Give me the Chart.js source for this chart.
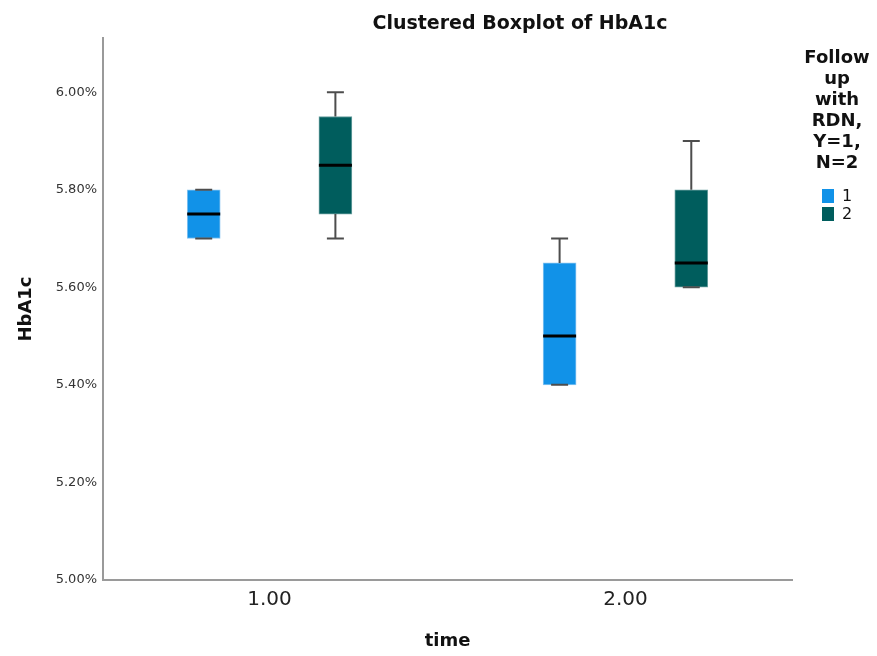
<!DOCTYPE html>
<html>
<head>
<meta charset="utf-8">
<script src="https://cdn.jsdelivr.net/npm/chart.js@4.4.1/dist/chart.umd.min.js"></script>
<style>
html,body{margin:0;padding:0;background:#fff;}
#wrap{position:relative;width:877px;height:656px;overflow:hidden;}
#c{position:absolute;left:0;top:0;}
#title{position:absolute;left:520px;top:11px;transform:translateX(-50%);white-space:nowrap;
  font:bold 19px "DejaVu Sans",sans-serif;line-height:22px;color:#111;}
#legend{position:absolute;left:797px;top:46px;width:80px;font-family:"DejaVu Sans",sans-serif;color:#111;}
#legend .lt{font-weight:bold;font-size:18px;line-height:21px;text-align:center;}
#legend .it{position:relative;height:18px;margin-left:25px;font-size:16px;line-height:18px;}
#legend .sw{position:absolute;left:0;top:2px;width:12px;height:14px;}
#legend .lb{position:absolute;left:20px;top:0;}
</style>
</head>
<body>
<div id="wrap">
<canvas id="c" width="877" height="656"></canvas>
<div id="title">Clustered Boxplot of HbA1c</div>
<div id="legend"></div>
</div>
<script>
// ---- data ----
const timeLabels = ['1.00', '2.00'];
const timeValues = [1, 2];
const groupLabels = ['1', '2'];
const legendTitleLines = ['Follow', 'up', 'with', 'RDN,', 'Y=1,', 'N=2'];
const yTickValues = [5.0, 5.2, 5.4, 5.6, 5.8, 6.0];

// group 1 (Y) per time point
const g1Min    = [5.70, 5.40];
const g1Q1     = [5.70, 5.40];
const g1Median = [5.75, 5.50];
const g1Q3     = [5.80, 5.65];
const g1Max    = [5.80, 5.70];
// group 2 (N) per time point
const g2Min    = [5.70, 5.60];
const g2Q1     = [5.75, 5.60];
const g2Median = [5.85, 5.65];
const g2Q3     = [5.95, 5.80];
const g2Max    = [6.00, 5.90];

const colors = ['#1192e8', '#005d5d'];
const borderColors = ['rgba(120,190,240,0.9)', 'rgba(90,150,150,0.9)'];
const clusterOffset = 0.185;

function makeDataset(label, color, border, off, mins, q1s, meds, q3s, maxs) {
  return {
    label: label,
    backgroundColor: color,
    borderColor: border,
    borderWidth: 1,
    borderSkipped: false,
    data: timeValues.map((t, i) => ({x: t + off, y: [q1s[i], q3s[i]]})),
    stats: timeValues.map((t, i) => ({min: mins[i], median: meds[i], max: maxs[i]}))
  };
}

const boxExtras = {
  id: 'boxExtras',
  afterDatasetsDraw(chart) {
    const ctx = chart.ctx;
    const ys = chart.scales.y;
    chart.data.datasets.forEach((ds, di) => {
      const meta = chart.getDatasetMeta(di);
      meta.data.forEach((el, i) => {
        const st = ds.stats[i];
        const x = el.x;
        const half = el.width / 2;
        const yTop = Math.min(el.y, el.base);
        const yBot = Math.max(el.y, el.base);
        const yMax = ys.getPixelForValue(st.max);
        const yMin = ys.getPixelForValue(st.min);
        const yMed = ys.getPixelForValue(st.median);
        ctx.save();
        ctx.strokeStyle = '#4d4d4d';
        ctx.lineWidth = 2;
        ctx.beginPath();
        if (yMax < yTop) { ctx.moveTo(x, yTop); ctx.lineTo(x, yMax); }
        if (yMin > yBot) { ctx.moveTo(x, yBot); ctx.lineTo(x, yMin); }
        ctx.moveTo(x - 8.5, yMax); ctx.lineTo(x + 8.5, yMax);
        ctx.moveTo(x - 8.5, yMin); ctx.lineTo(x + 8.5, yMin);
        ctx.stroke();
        ctx.strokeStyle = '#000000';
        ctx.lineWidth = 3;
        ctx.beginPath();
        ctx.moveTo(x - half, yMed); ctx.lineTo(x + half, yMed);
        ctx.stroke();
        ctx.restore();
      });
    });
  }
};

const chart = new Chart(document.getElementById('c'), {
  type: 'bar',
  data: {
    datasets: [
      makeDataset(groupLabels[0], colors[0], borderColors[0], -clusterOffset, g1Min, g1Q1, g1Median, g1Q3, g1Max),
      makeDataset(groupLabels[1], colors[1], borderColors[1], clusterOffset, g2Min, g2Q1, g2Median, g2Q3, g2Max)
    ]
  },
  options: {
    responsive: false,
    animation: false,
    grouped: false,
    barThickness: 33,
    layout: {padding: {top: 38, right: 85, left: 0, bottom: 0}},
    plugins: {legend: {display: false}, title: {display: false}, tooltip: {enabled: false}},
    scales: {
      x: {
        type: 'linear',
        offset: false,
        bounds: 'data',
        min: 1 - 0.468,
        max: 2 + 0.468,
        grid: {display: false, drawTicks: false, offset: false},
        border: {display: true, color: '#9a9a9a', width: 2},
        afterBuildTicks: (s) => { s.ticks = timeValues.map(v => ({value: v})); },
        afterFit: (s) => { s.height = 76; },
        ticks: {
          padding: 8,
          color: '#222',
          font: {family: '"DejaVu Sans", sans-serif', size: 20},
          callback: (v) => timeLabels[timeValues.indexOf(v)] ?? ''
        },
        title: {display: true, text: 'time', color: '#111',
          font: {family: '"DejaVu Sans", sans-serif', size: 18, weight: 'bold'},
          padding: {top: 0, bottom: 4}}
      },
      y: {
        type: 'linear',
        min: 5.0,
        max: 6.111,
        grid: {display: false, drawTicks: false},
        border: {display: true, color: '#9a9a9a', width: 2},
        afterBuildTicks: (s) => { s.ticks = yTickValues.map(v => ({value: v})); },
        afterFit: (s) => { s.width = 103; },
        ticks: {
          padding: 6,
          color: '#333',
          font: {family: '"DejaVu Sans", sans-serif', size: 13},
          callback: (v) => v.toFixed(2) + '%'
        },
        title: {display: true, text: 'HbA1c', color: '#111',
          font: {family: '"DejaVu Sans", sans-serif', size: 18, weight: 'bold'},
          padding: {top: 16, bottom: 0}}
      }
    }
  },
  plugins: [boxExtras]
});

// HTML legend built from the data
const lg = document.getElementById('legend');
legendTitleLines.forEach(t => {
  const d = document.createElement('div'); d.className = 'lt'; d.textContent = t; lg.appendChild(d);
});
const gap = document.createElement('div'); gap.style.height = '15px'; lg.appendChild(gap);
groupLabels.forEach((g, i) => {
  const it = document.createElement('div'); it.className = 'it';
  const sw = document.createElement('span'); sw.className = 'sw'; sw.style.background = colors[i];
  const lb = document.createElement('span'); lb.className = 'lb'; lb.textContent = g;
  it.appendChild(sw); it.appendChild(lb); lg.appendChild(it);
});
</script>
</body>
</html>
